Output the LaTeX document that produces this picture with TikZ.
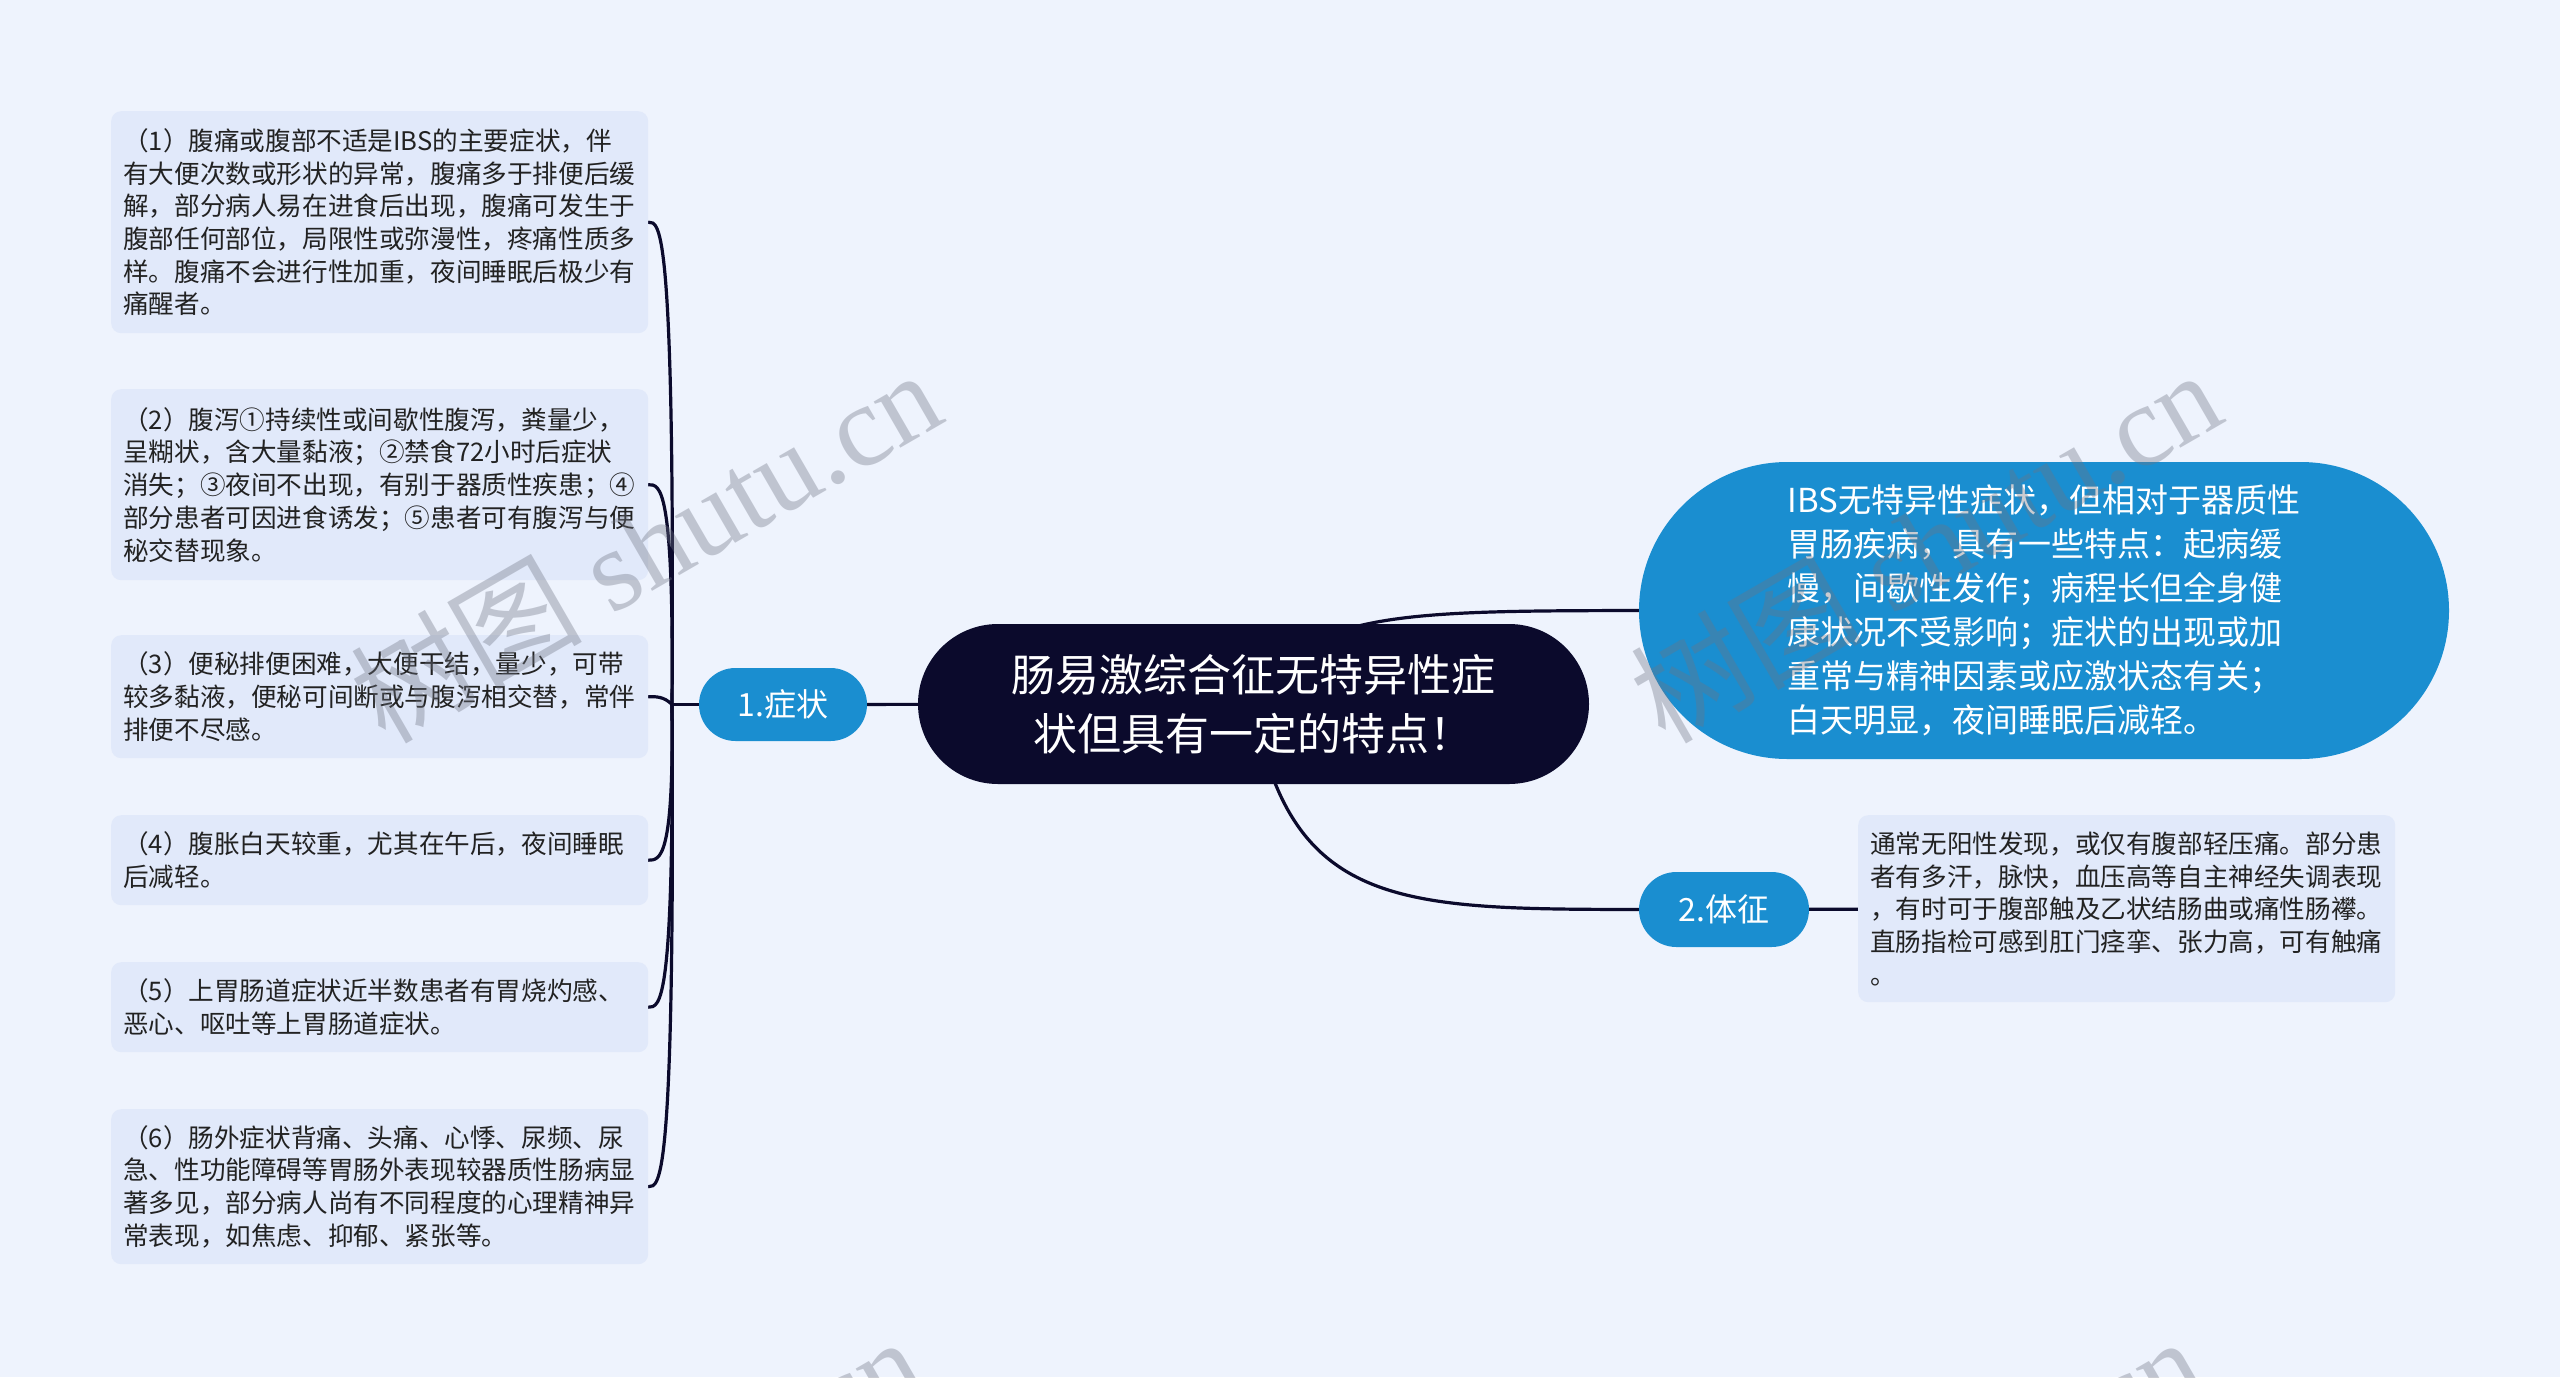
\documentclass[tikz,border=0pt]{standalone}
\usepackage{fontspec}
\setmainfont{Noto Sans CJK SC}
\newfontfamily\wmlatin{Liberation Serif}
\newfontfamily\wmcjk{Noto Sans CJK SC}
\definecolor{bgclr}{RGB}{238,243,253}
\definecolor{leaffill}{RGB}{225,233,250}
\definecolor{leaftext}{RGB}{34,34,34}
\definecolor{mblue}{RGB}{26,142,208}
\definecolor{mdark}{RGB}{11,10,44}
\definecolor{wmgray}{RGB}{110,115,130}
\pgfdeclarelayer{bg}
\pgfsetlayers{bg,main}
\begin{document}
\begin{tikzpicture}[x=1pt,y=-1pt,
  leafbox/.style={fill=leaffill, rounded corners=10pt, anchor=north west,
    minimum width=537pt, text width=513pt, inner xsep=12pt, inner ysep=0pt,
    align=left, text=leaftext, font=\fontsize{25.6pt}{32.7pt}\selectfont},
  topicbox/.style={fill=mblue, text=white, inner sep=0pt,
    font=\fontsize{32pt}{38pt}\selectfont},
  conn/.style={draw=mdark, line width=3.2pt, line cap=round},
  wmark/.style={rotate=30, text=wmgray, text opacity=0.36, inner sep=0pt}
]
\useasboundingbox (0,0) rectangle (2560,1377);
\begin{pgfonlayer}{bg}
  \fill[bgclr] (0,0) rectangle (2560,1377);
\end{pgfonlayer}

% central node
\node[fill=mdark, text=white, rounded corners=80pt, minimum width=671pt,
  minimum height=160pt, inner sep=0pt, align=center,
  font=\fontsize{44pt}{59pt}\selectfont] (c) at (1253.5,704)
  {肠易激综合征无特异性症\\状但具有一定的特点！};

% first level
\node[topicbox, rounded corners=36.5pt, minimum width=168pt, minimum height=73pt]
  (s1) at (783,704.5) {1.症状};
\node[topicbox, rounded corners=37.5pt, minimum width=170pt, minimum height=75pt]
  (s2) at (1724,909.5) {2.体征};
\node[fill=mblue, text=white, rounded corners=148.5pt, minimum width=810pt,
  minimum height=297pt, inner sep=0pt, align=left,
  font=\fontsize{33pt}{44pt}\selectfont] (r) at (2044,610.5)
  {IBS无特异性症状，但相对于器质性\\
   胃肠疾病，具有一些特点：起病缓\\
   慢，间歇性发作；病程长但全身健\\
   康状况不受影响；症状的出现或加\\
   重常与精神因素或应激状态有关；\\
   白天明显，夜间睡眠后减轻。};

% leaves of 1.症状
\node[leafbox, minimum height=222pt] (l1) at (111,111)
  {（1）腹痛或腹部不适是IBS的主要症状，伴\\
   有大便次数或形状的异常，腹痛多于排便后缓\\
   解，部分病人易在进食后出现，腹痛可发生于\\
   腹部任何部位，局限性或弥漫性，疼痛性质多\\
   样。腹痛不会进行性加重，夜间睡眠后极少有\\
   痛醒者。};
\node[leafbox, minimum height=191pt] (l2) at (111,389)
  {（2）腹泻①持续性或间歇性腹泻，粪量少，\\
   呈糊状，含大量黏液；②禁食72小时后症状\\
   消失；③夜间不出现，有别于器质性疾患；④\\
   部分患者可因进食诱发；⑤患者可有腹泻与便\\
   秘交替现象。};
\node[leafbox, minimum height=123pt] (l3) at (111,635)
  {（3）便秘排便困难，大便干结，量少，可带\\
   较多黏液，便秘可间断或与腹泻相交替，常伴\\
   排便不尽感。};
\node[leafbox, minimum height=90pt] (l4) at (111,815)
  {（4）腹胀白天较重，尤其在午后，夜间睡眠\\
   后减轻。};
\node[leafbox, minimum height=90pt] (l5) at (111,962)
  {（5）上胃肠道症状近半数患者有胃烧灼感、\\
   恶心、呕吐等上胃肠道症状。};
\node[leafbox, minimum height=155pt] (l6) at (111,1109)
  {（6）肠外症状背痛、头痛、心悸、尿频、尿\\
   急、性功能障碍等胃肠外表现较器质性肠病显\\
   著多见，部分病人尚有不同程度的心理精神异\\
   常表现，如焦虑、抑郁、紧张等。};

% leaf of 2.体征
\node[leafbox, minimum height=187pt] (r2) at (1858,815)
  {通常无阳性发现，或仅有腹部轻压痛。部分患\\
   者有多汗，脉快，血压高等自主神经失调表现\\
   ，有时可于腹部触及乙状结肠曲或痛性肠襻。\\
   直肠指检可感到肛门痉挛、张力高，可有触痛\\
   。};

\coordinate (T) at (672,704.5);

\begin{pgfonlayer}{bg}
  \draw[conn] (c.center) .. controls (1300,611) and (1400,611) .. (r.west);
  \draw[conn] (c.center) .. controls (1290,909) and (1400,909) .. (s2.west);
  \draw[conn] (s1) -- (c);
  \draw[conn] (s2) -- (r2);
  \draw[conn] (s1.west) -- (T);
  \draw[conn] (T) .. controls (675,222) and (660,222) .. (l1.east);
  \draw[conn] (T) .. controls (674,484.5) and (660,484.5) .. (l2.east);
  \draw[conn] (T) .. controls (664,696.5) and (656,696.5) .. (l3.east);
  \draw[conn] (T) .. controls (674,860) and (660,860) .. (l4.east);
  \draw[conn] (T) .. controls (674,1007) and (660,1007) .. (l5.east);
  \draw[conn] (T) .. controls (675,1186.5) and (660,1186.5) .. (l6.east);
\end{pgfonlayer}

% watermarks
\begin{scope}
  \clip (0,0) rectangle (2560,1377);
  \node[wmark] (w1) at (645,545) {\fontsize{116pt}{118pt}\selectfont\wmcjk 树图\wmlatin\ shutu.cn};
  \node[wmark] (w2) at (1925,545) {\fontsize{116pt}{118pt}\selectfont\wmcjk 树图\wmlatin\ shutu.cn};
  \node[wmark] (w3) at (627,1512) {\fontsize{116pt}{118pt}\selectfont\wmcjk 树图\wmlatin\ shutu.cn};
  \node[wmark] (w4) at (1907,1512) {\fontsize{116pt}{118pt}\selectfont\wmcjk 树图\wmlatin\ shutu.cn};
\end{scope}
\end{tikzpicture}
\end{document}
